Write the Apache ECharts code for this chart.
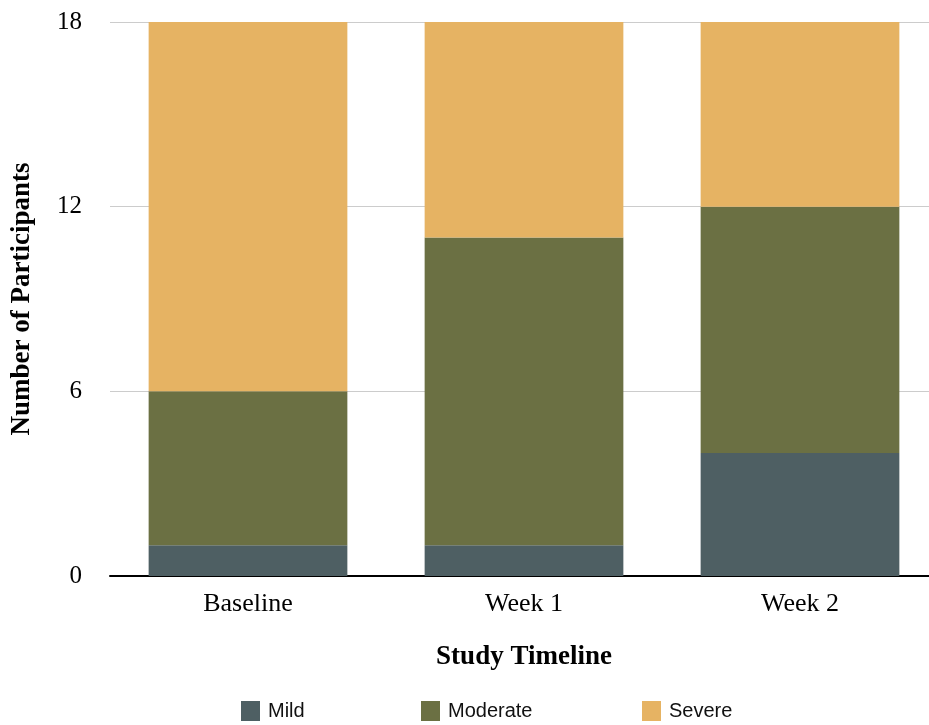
<!DOCTYPE html>
<html>
<head>
<meta charset="utf-8">
<script src="https://cdn.jsdelivr.net/npm/echarts@6/dist/echarts.min.js"></script>
<style>
  html, body { margin: 0; padding: 0; background: #fff; }
  #main { width: 929px; height: 725px; }
</style>
</head>
<body>
<div id="main"></div>
<script type="text/javascript">
// categories along the x axis
var timeline = ['Baseline', 'Week 1', 'Week 2'];
// participants per severity level
var mild = [1, 1, 4];
var moderate = [5, 10, 8];
var severe = [12, 7, 6];
var yTicks = [0, 6, 12, 18];
var levels = ['Mild', 'Moderate', 'Severe'];
var colors = ['#4e5f63', '#6b7043', '#e6b363'];

var serif = '"Liberation Serif", "Times New Roman", serif';

var makeSeries = function(name, values, color) {
    return {
        name: name,
        type: 'bar',
        stack: 'total',
        barWidth: '72%',
        data: values,
        itemStyle: { color: color },
        emphasis: { disabled: true }
    };
};

// one legend per item so each can sit where the reference puts it
var legendLefts = [236, 416, 637];
var legends = [];
for (var i = 0; i < levels.length; i++) {
    legends.push({
        left: legendLefts[i],
        top: 696,
        itemWidth: 19,
        itemHeight: 20,
        icon: 'rect',
        selectedMode: false,
        textStyle: {
            fontFamily: '"Liberation Sans", Arial, sans-serif',
            fontSize: 20,
            color: '#111',
            padding: [0, 0, 0, 3]
        },
        data: [levels[i]]
    });
}

var option = {
    backgroundColor: '#ffffff',
    animation: false,
    grid: {
        left: 110,
        width: 828,
        top: 22,
        bottom: 149,
        outerBoundsMode: 'none'
    },
    legend: legends,
    xAxis: {
        type: 'category',
        data: timeline,
        name: 'Study Timeline',
        nameLocation: 'middle',
        nameGap: 68,
        nameTextStyle: {
            fontFamily: serif,
            fontWeight: 'bold',
            fontSize: 27,
            color: '#000'
        },
        axisLine: { lineStyle: { color: '#000', width: 2 } },
        axisTick: { show: false },
        axisLabel: {
            fontFamily: serif,
            fontSize: 26,
            color: '#000',
            margin: 15
        }
    },
    yAxis: {
        type: 'value',
        min: yTicks[0],
        max: yTicks[yTicks.length - 1],
        interval: 6,
        name: 'Number of Participants',
        nameLocation: 'middle',
        nameGap: 74,
        nameTextStyle: {
            fontFamily: serif,
            fontWeight: 'bold',
            fontSize: 27,
            color: '#000'
        },
        axisLine: { show: false },
        axisTick: { show: false },
        splitLine: { lineStyle: { color: '#cccccc', width: 1 } },
        axisLabel: {
            fontFamily: serif,
            fontSize: 25,
            color: '#000',
            margin: 28
        }
    },
    series: [
        makeSeries(levels[0], mild, colors[0]),
        makeSeries(levels[1], moderate, colors[1]),
        makeSeries(levels[2], severe, colors[2])
    ]
};

var chart = echarts.init(document.getElementById('main'));
chart.setOption(option);
</script>
</body>
</html>
